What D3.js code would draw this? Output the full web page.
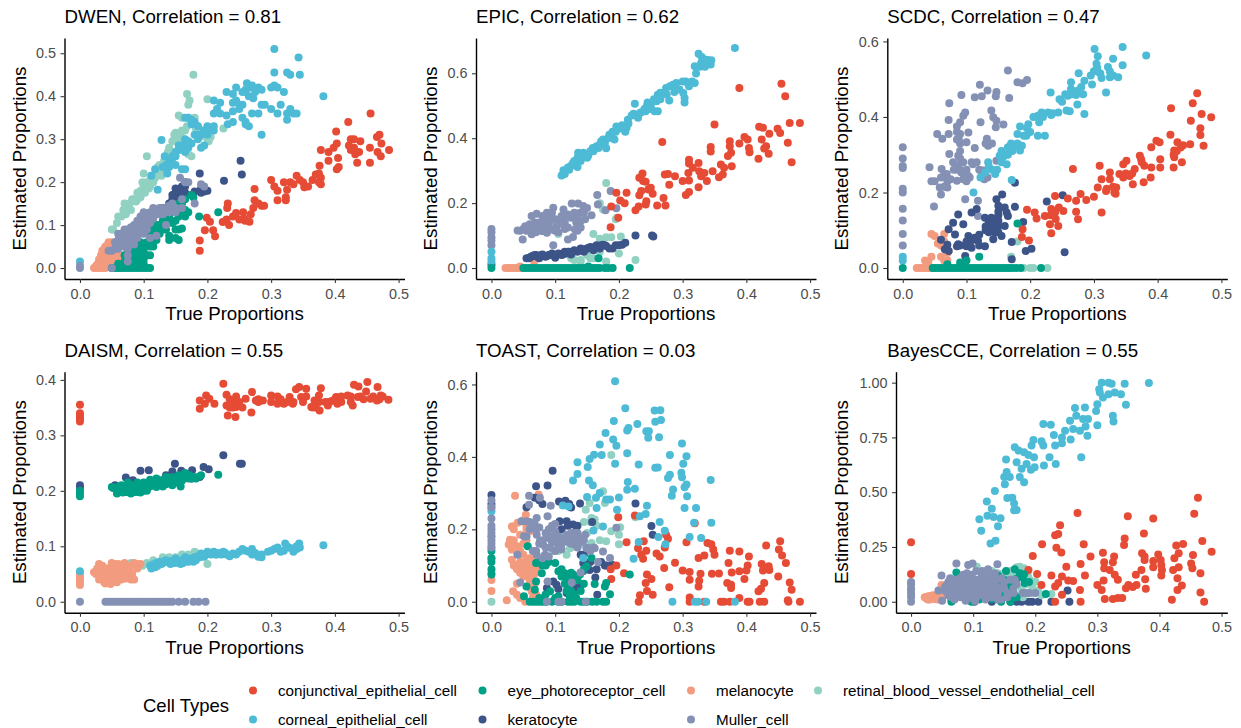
<!DOCTYPE html>
<html>
<head>
<meta charset="utf-8">
<script src="https://cdn.jsdelivr.net/npm/d3@7"></script>
<style>
  html, body { margin: 0; padding: 0; background: #fff; }
  svg { display: block; }
  text { font-family: "Liberation Sans", Arial, sans-serif; }
</style>
</head>
<body>
<div id="chart"></div>
<script>
// legend / colours
var cellTypes = ["conjunctival_epithelial_cell", "corneal_epithelial_cell", "eye_photoreceptor_cell", "keratocyte",
                 "melanocyte", "Muller_cell", "retinal_blood_vessel_endothelial_cell"];
var cellColors = ["#E64B35", "#4DBBD5", "#00A087", "#3C5488", "#F39B7F", "#8491B4", "#91D1C2"];

var methods = ["DWEN", "EPIC", "SCDC", "DAISM", "TOAST", "BayesCCE"];
var correlations = ["0.81", "0.62", "0.47", "0.55", "0.03", "0.55"];
var xTicks = [0, 0.1, 0.2, 0.3, 0.4, 0.5];
var yTicks = [
  [0, 0.1, 0.2, 0.3, 0.4, 0.5],
  [0, 0.2, 0.4, 0.6],
  [0, 0.2, 0.4, 0.6],
  [0, 0.1, 0.2, 0.3, 0.4],
  [0, 0.2, 0.4, 0.6],
  [0, 0.25, 0.5, 0.75, 1]
];
var yFormats = [".1f", ".1f", ".1f", ".1f", ".1f", ".2f"];
var xLimit = [0, 0.485];
var yLimits = [0.51, 0.675, 0.58, 0.395, 0.605, 1.0];

// points sitting on the zero line, only x is listed
var at0 = function(xs) { return xs.map(function(x) { return [x, 0]; }); };

/* ---------------------- DWEN ---------------------- */
var dwen_conj = [[.188,.064],[.188,.04],[.199,.117],[.204,.108],[.196,.088],[.209,.088],[.212,.074],[.232,.15],[.231,.14],[.224,.107],[.230,.113],[.234,.100],[.240,.120],[.245,.128],[.250,.113],[.256,.130],[.258,.115],[.259,.110],[.266,.108],[.268,.125],[.272,.14],[.274,.158],[.274,.184],[.280,.15],[.285,.145],[.289,.145],[.300,.205],[.305,.19],[.310,.18],[.310,.158],[.323,.158],[.323,.165],[.325,.182],[.320,.20],[.330,.20],[.335,.195],[.340,.215],[.345,.205],[.350,.20],[.352,.188],[.358,.19],[.365,.205],[.370,.218],[.375,.20],[.378,.195],[.375,.22],[.376,.238],[.378,.275],[.378,.21],[.390,.25],[.390,.27],[.398,.28],[.403,.29],[.403,.23],[.406,.235],[.405,.256],[.402,.318],[.422,.285],[.421,.34],[.425,.30],[.430,.28],[.432,.265],[.435,.245],[.440,.295],[.438,.27],[.455,.28],[.455,.245],[.456,.36],[.466,.305],[.470,.31],[.467,.27],[.472,.26],[.473,.29],[.485,.275],[.430,.30],[.425,.275]];
var dwen_corneal = [[0,.015],[.112,.215],[.118,.23],[.122,.182],[.128,.298],[.133,.26],[.135,.24],[.137,.22],[.140,.25],[.145,.245],[.150,.26],[.155,.275],[.16,.23],[.165,.23],[.155,.285],[.165,.30],[.170,.28],[.175,.29],[.18,.31],[.185,.30],[.19,.31],[.20,.33],[.2,.325],[.195,.285],[.19,.28],[.165,.35],[.170,.35],[.18,.34],[.175,.335],[.205,.325],[.21,.32],[.215,.37],[.21,.39],[.22,.385],[.22,.36],[.21,.36],[.232,.335],[.23,.355],[.24,.365],[.23,.41],[.24,.405],[.245,.42],[.245,.39],[.25,.38],[.25,.37],[.255,.35],[.26,.34],[.265,.33],[.255,.38],[.26,.41],[.26,.415],[.262,.43],[.268,.42],[.272,.395],[.275,.41],[.28,.42],[.285,.415],[.285,.31],[.28,.36],[.27,.36],[.285,.38],[.29,.38],[.30,.37],[.30,.42],[.305,.425],[.31,.42],[.31,.36],[.315,.38],[.32,.41],[.325,.36],[.33,.37],[.335,.36],[.34,.36],[.325,.345],[.305,.455],[.305,.51],[.325,.455],[.33,.45],[.345,.45],[.343,.49],[.382,.40],[.145,.26],[.15,.27],[.16,.285],[.165,.27],[.17,.295],[.185,.31],[.195,.32],[.15,.24],[.14,.235],[.13,.235],[.175,.345],[.185,.33],[.2,.31],[.21,.33],[.24,.385],[.265,.4],[.27,.425],[.255,.41],[.24,.34],[.26,.335]];
var dwen_eye = at0([.05,.055,.06,.065,.07,.075,.08,.085,.09,.095,.1,.105,.11]).concat([[.07,.03],[.075,.04],[.08,.02],[.085,.05],[.09,.045],[.08,.035],[.10,.04],[.105,.06],[.11,.03],[.115,.05],[.115,.09],[.12,.085],[.125,.08],[.13,.11],[.14,.12],[.135,.09],[.14,.075],[.15,.09],[.16,.092],[.155,.065],[.15,.07],[.165,.12],[.16,.13],[.17,.13],[.178,.165],[.187,.12],[.217,.13],[.155,.15],[.165,.16],[.175,.17],[.13,.13],[.12,.10],[.11,.075],[.09,.08],[.095,.06],[.085,.07],[.10,.02],[.07,.015],[.06,.01],[.075,.01],[.08,.01],[.085,.01],[.09,.02],[.095,.03],[.1,.05],[.105,.03],[.11,.05],[.115,.06],[.12,.065],[.125,.1],[.13,.09],[.135,.105],[.145,.105],[.15,.11],[.155,.12],[.165,.135],[.16,.15],[.09,.01],[.1,.01],[.085,.03],[.14,.065],[.155,.09],[.065,.005],[.07,.005]]);
var dwen_kerato = [[.12,.13],[.13,.14],[.14,.15],[.145,.16],[.15,.175],[.155,.18],[.16,.185],[.165,.175],[.15,.185],[.16,.19],[.165,.2],[.18,.178],[.19,.175],[.195,.178],[.2,.18],[.188,.22],[.226,.203],[.252,.25],[.254,.218],[.19,.185],[.105,.12],[.11,.10],[.155,.17],[.165,.19],[.145,.17],[.15,.165],[.16,.17],[.175,.17]];
var dwen_mela = [[.022,0],[.027,0],[.03,.005],[.03,.02],[.035,0],[.035,.03],[.035,.04],[.04,0],[.04,.015],[.04,.05],[.045,.06],[.045,.025],[.05,.02],[.05,.01],[.05,.035],[.05,.06],[.055,.045],[.055,0],[.06,.015],[.06,.03],[.065,.03],[.07,.05],[.045,.01],[.04,.035],[.055,.03],[.06,.05],[.045,.045],[.025,.005],[.028,.01],[.032,.012],[.033,.03],[.037,.02],[.042,.008],[.042,.03],[.047,.04],[.048,.05],[.052,.042],[.052,.03],[.058,.04],[.05,0],[.06,0],[.065,.015],[.03,0],[.038,.045],[.044,.055]];
var dwen_muller = [[0,0],[0,.005],[.05,.04],[.045,.04],[.055,.06],[.06,.05],[.065,.065],[.06,.08],[.06,.045],[.07,.075],[.075,.09],[.08,.085],[.085,.10],[.09,.095],[.095,.12],[.1,.11],[.1,.13],[.105,.125],[.11,.13],[.115,.125],[.12,.135],[.125,.14],[.13,.14],[.135,.14],[.14,.145],[.15,.14],[.145,.135],[.15,.13],[.105,.09],[.09,.085],[.085,.08],[.08,.065],[.075,.06],[.07,.05],[.075,.015],[.05,0],[.075,.03],[.11,.07],[.12,.075],[.135,.1],[.16,.16],[.165,.2],[.157,.21],[.17,.2],[.19,.195],[.195,.19],[.18,.15],[.16,.14],[.115,.14],[.095,.105],[.11,.105],[.07,.09],[.055,.045],[.065,.055],[.07,.065],[.08,.075],[.085,.09],[.09,.11],[.095,.09],[.1,.1],[.105,.11],[.11,.115],[.115,.115],[.12,.125],[.125,.125],[.13,.125],[.135,.13],[.14,.13],[.145,.15],[.1,.08],[.09,.07],[.08,.095],[.075,.075],[.065,.08],[.06,.065],[.075,.045],[.085,.055]];
var dwen_retinal = [[.05,.09],[.06,.12],[.065,.12],[.07,.15],[.075,.14],[.08,.135],[.085,.16],[.09,.175],[.088,.155],[.095,.165],[.1,.19],[.105,.20],[.11,.19],[.1,.22],[.105,.26],[.11,.205],[.115,.2],[.12,.22],[.125,.24],[.13,.23],[.135,.255],[.14,.28],[.145,.295],[.15,.315],[.155,.275],[.16,.32],[.165,.32],[.155,.355],[.17,.35],[.18,.35],[.185,.33],[.19,.32],[.195,.31],[.2,.30],[.202,.295],[.178,.45],[.168,.405],[.17,.38],[.172,.39],[.2,.393],[.225,.325],[.17,.265],[.175,.26],[.16,.29],[.15,.27],[.14,.25],[.052,.09],[.058,.105],[.068,.135],[.072,.125],[.078,.15],[.082,.16],[.09,.16],[.095,.18],[.098,.2],[.102,.175],[.108,.185],[.112,.215],[.118,.21],[.122,.235],[.128,.215],[.132,.25],[.138,.27],[.142,.26],[.148,.31],[.152,.3],[.158,.31],[.162,.3],[.168,.33],[.175,.34],[.182,.325],[.188,.305],[.198,.315],[.205,.305],[.16,.35]];

/* ---------------------- EPIC ---------------------- */
var epic_conj = [[.187,.126],[.188,.19],[.196,.232],[.212,.232],[.202,.208],[.209,.2],[.199,.155],[.226,.178],[.231,.19],[.243,.206],[.242,.196],[.26,.193],[.273,.193],[.27,.216],[.232,.224],[.235,.237],[.238,.268],[.232,.278],[.237,.291],[.242,.266],[.246,.242],[.25,.247],[.253,.229],[.268,.388],[.272,.288],[.277,.29],[.288,.283],[.279,.257],[.3,.268],[.31,.27],[.305,.225],[.31,.234],[.325,.249],[.309,.293],[.31,.334],[.31,.322],[.325,.324],[.316,.309],[.326,.298],[.334,.293],[.329,.283],[.338,.268],[.347,.298],[.35,.442],[.344,.373],[.344,.359],[.357,.28],[.363,.288],[.36,.319],[.365,.309],[.377,.314],[.371,.345],[.376,.355],[.374,.391],[.374,.375],[.389,.384],[.389,.555],[.397,.404],[.402,.396],[.404,.37],[.405,.357],[.419,.337],[.42,.435],[.426,.432],[.424,.396],[.431,.375],[.428,.368],[.435,.352],[.436,.414],[.449,.429],[.453,.416],[.455,.568],[.461,.529],[.465,.386],[.468,.447],[.471,.326],[.484,.447]];
var epic_corneal = [[0,.02],[0,.03],[0,.05],[.11,.285],[.113,.301],[.122,.303],[.128,.324],[.135,.311],[.136,.355],[.144,.355],[.152,.347],[.159,.37],[.165,.375],[.17,.38],[.175,.396],[.18,.369],[.185,.411],[.193,.396],[.196,.436],[.212,.432],[.214,.457],[.225,.506],[.223,.475],[.23,.463],[.233,.478],[.242,.483],[.244,.5],[.256,.483],[.261,.483],[.259,.514],[.261,.534],[.274,.555],[.279,.516],[.285,.565],[.287,.542],[.3,.575],[.303,.524],[.301,.539],[.308,.57],[.319,.57],[.319,.622],[.321,.599],[.329,.632],[.325,.66],[.337,.642],[.345,.64],[.344,.627],[.382,.678],[.14,.33],[.15,.34],[.16,.36],[.175,.385],[.19,.42],[.2,.43],[.205,.44],[.22,.47],[.25,.5],[.265,.54],[.29,.55],[.115,.29],[.12,.31],[.125,.315],[.13,.33],[.135,.34],[.14,.35],[.145,.345],[.155,.36],[.163,.37],[.168,.37],[.172,.39],[.178,.385],[.183,.4],[.188,.41],[.195,.42],[.205,.43],[.21,.42],[.215,.445],[.228,.47],[.235,.48],[.24,.49],[.245,.51],[.25,.49],[.255,.52],[.265,.52],[.27,.54],[.275,.535],[.28,.56],[.29,.57],[.295,.55],[.305,.575],[.31,.56],[.315,.575],[.303,.51],[.33,.65],[.34,.64],[.327,.62],[.335,.62]];
var epic_eye = at0([0,.05,.055,.06,.065,.07,.075,.08,.085,.09,.095,.1,.105,.11,.115,.12,.125,.13,.135,.14,.145,.15,.155,.16,.165,.17,.178,.183,.19,.217]).concat([[.168,.03],[.152,.005]]);
var epic_kerato = [[0,.01],[.055,.03],[.06,.032],[.065,.038],[.07,.04],[.075,.03],[.08,.042],[.085,.035],[.09,.04],[.095,.045],[.1,.032],[.105,.045],[.11,.04],[.115,.05],[.12,.05],[.125,.042],[.13,.055],[.135,.05],[.14,.06],[.145,.05],[.15,.06],[.155,.065],[.16,.055],[.165,.07],[.17,.06],[.175,.072],[.18,.068],[.19,.06],[.195,.07],[.205,.072],[.21,.078],[.226,.1],[.252,.1],[.254,.097],[.058,.03],[.062,.035],[.068,.04],[.072,.035],[.078,.04],[.082,.038],[.088,.038],[.092,.04],[.098,.04],[.102,.04],[.108,.043],[.112,.042],[.118,.045],[.122,.05],[.128,.05],[.132,.052],[.138,.055],[.142,.058],[.148,.058],[.152,.062],[.158,.06],[.162,.065],[.168,.065],[.172,.07],[.178,.07],[.185,.06],[.2,.07]];
var epic_mela = at0([.022,.027,.03,.035,.04,.045,.05]).concat([[.045,.005],[.067,.02]]);
var epic_muller = [[0,.07],[0,.085],[0,.095],[0,.11],[0,.12],[.041,.116],[.049,.088],[.053,.129],[.063,.16],[.071,.167],[.063,.104],[.074,.124],[.08,.14],[.087,.17],[.097,.186],[.084,.155],[.092,.145],[.087,.109],[.097,.07],[.102,.129],[.113,.18],[.115,.16],[.105,.11],[.12,.088],[.128,.096],[.115,.14],[.126,.199],[.136,.199],[.139,.17],[.131,.119],[.144,.191],[.147,.15],[.157,.163],[.133,.14],[.166,.225],[.167,.196],[.187,.237],[.179,.178],[.196,.184],[.058,.12],[.079,.114],[.094,.119],[.107,.15],[.068,.14],[.14,.145],[.045,.115],[.05,.12],[.055,.115],[.06,.135],[.065,.12],[.07,.11],[.075,.14],[.08,.16],[.085,.13],[.09,.16],[.09,.13],[.095,.17],[.1,.15],[.1,.115],[.105,.135],[.11,.16],[.115,.12],[.12,.125],[.125,.155],[.13,.17],[.135,.16],[.14,.125],[.145,.17],[.15,.185],[.135,.115],[.12,.165],[.08,.115],[.07,.13]];
var epic_retinal = [[.13,.025],[.125,.03],[.155,.03],[.14,.025],[.15,.04],[.16,.03],[.18,.02],[.2,.045],[.226,.025],[.16,.105],[.17,.09],[.18,.095],[.188,.095],[.203,.097],[.197,.155],[.18,.262],[.17,.2],[.175,.18],[.17,.05],[.14,.02],[.19,0],[.195,.15],[.105,.105]];

/* ---------------------- SCDC ---------------------- */
var scdc_conj = [[.188,.103],[.187,.082],[.198,.073],[.195,.154],[.207,.147],[.21,.131],[.223,.138],[.233,.092],[.231,.116],[.244,.111],[.239,.147],[.233,.156],[.239,.191],[.252,.151],[.259,.184],[.267,.262],[.272,.149],[.275,.129],[.272,.178],[.279,.196],[.288,.18],[.3,.189],[.312,.147],[.306,.213],[.312,.235],[.309,.271],[.319,.204],[.325,.253],[.325,.235],[.332,.2],[.335,.213],[.334,.197],[.34,.249],[.346,.275],[.351,.284],[.346,.24],[.356,.244],[.361,.222],[.364,.262],[.372,.297],[.374,.288],[.378,.227],[.379,.271],[.39,.266],[.389,.24],[.39,.32],[.398,.337],[.403,.333],[.404,.288],[.404,.266],[.421,.423],[.42,.353],[.425,.266],[.426,.293],[.426,.311],[.431,.333],[.436,.319],[.438,.28],[.451,.328],[.452,.39],[.455,.436],[.462,.463],[.467,.37],[.467,.352],[.469,.408],[.472,.324],[.484,.399],[.24,.13],[.232,.14],[.245,.16],[.35,.25],[.36,.25],[.375,.28],[.43,.31],[.425,.3],[.44,.325],[.33,.215],[.32,.21]];
var scdc_corneal = [[0,.02],[0,.03],[.111,.2],[.122,.24],[.171,.233],[.134,.28],[.145,.249],[.129,.253],[.152,.297],[.163,.275],[.16,.3],[.176,.324],[.184,.311],[.187,.324],[.18,.355],[.184,.375],[.197,.381],[.194,.35],[.2,.36],[.212,.35],[.223,.35],[.212,.403],[.218,.412],[.214,.386],[.232,.465],[.228,.412],[.233,.405],[.244,.412],[.246,.447],[.257,.417],[.262,.415],[.259,.456],[.264,.492],[.264,.474],[.272,.458],[.274,.433],[.276,.516],[.28,.479],[.285,.408],[.285,.496],[.283,.46],[.297,.486],[.301,.58],[.306,.561],[.304,.541],[.3,.521],[.306,.52],[.312,.503],[.319,.465],[.322,.532],[.325,.505],[.33,.554],[.338,.505],[.345,.585],[.345,.537],[.382,.563],[.155,.31],[.165,.32],[.17,.33],[.18,.33],[.14,.26],[.135,.27],[.148,.26],[.155,.28],[.158,.295],[.165,.3],[.172,.31],[.178,.325],[.19,.35],[.195,.37],[.205,.4],[.22,.4],[.235,.41],[.25,.44],[.255,.46],[.265,.46],[.275,.47],[.295,.51],[.305,.53],[.31,.515],[.325,.52],[.33,.51]];
var scdc_eye = at0([0,.047,.052,.057,.062,.067,.072,.077,.082,.087,.092,.097,.102,.107,.112,.117,.122,.127,.132,.137,.142,.147,.152,.157,.162,.167,.172,.178,.185,.217]).concat([[.12,.03],[.18,.118],[.09,.015],[.1,.02],[.07,.01],[.095,.012]]);
var scdc_kerato = [[.226,.176],[.251,.193],[.254,.042],[.176,.226],[.156,.195],[.147,.182],[.15,.165],[.176,.162],[.16,.16],[.163,.147],[.139,.133],[.189,.122],[.202,.051],[.193,.045],[.171,.069],[.171,.023],[.087,.142],[.079,.12],[.072,.103],[.06,.075],[.066,.05],[.072,.045],[.082,.089],[.087,.063],[.095,.116],[.108,.147],[.116,.156],[.103,.085],[.113,.08],[.108,.054],[.129,.058],[.118,.072],[.098,.032],[.129,.133],[.134,.111],[.145,.12],[.15,.111],[.145,.094],[.155,.085],[.16,.111],[.165,.138],[.142,.076],[.09,.06],[.1,.058],[.12,.088],[.14,.13],[.138,.105],[.147,.105],[.15,.14],[.07,.062],[.13,.11],[.135,.12],[.14,.1],[.145,.11],[.14,.115],[.15,.095],[.135,.095],[.11,.075],[.105,.065],[.1,.07],[.12,.06],[.085,.058],[.13,.1],[.15,.125],[.15,.15]];
var scdc_mela = at0([.022,.027,.03,.035,.04,.045,.05]).concat([[.045,.09],[.05,.085],[.055,.065],[.06,.06],[.065,.09],[.035,.02],[.04,.015],[.045,.03],[.065,.07],[.07,.04],[.065,.02],[.06,.03],[.07,.02],[.072,.045]]);
var scdc_muller = [[0,.32],[0,.29],[0,.27],[0,.265],[0,.21],[0,.2],[0,.157],[0,.126],[0,.09],[0,.06],[.042,.267],[.045,.23],[.05,.23],[.049,.163],[.06,.195],[.058,.213],[.061,.262],[.064,.244],[.069,.249],[.07,.213],[.054,.355],[.062,.342],[.072,.355],[.072,.392],[.073,.436],[.073,.302],[.079,.28],[.085,.231],[.087,.297],[.087,.271],[.09,.355],[.09,.386],[.092,.458],[.095,.403],[.098,.412],[.098,.182],[.092,.253],[.103,.359],[.1,.333],[.103,.244],[.108,.28],[.113,.452],[.113,.318],[.116,.28],[.118,.178],[.118,.138],[.121,.485],[.124,.455],[.122,.386],[.126,.258],[.133,.47],[.132,.342],[.134,.324],[.133,.24],[.139,.417],[.142,.399],[.147,.466],[.146,.455],[.147,.39],[.146,.373],[.158,.38],[.167,.45],[.165,.523],[.18,.492],[.188,.489],[.195,.498],[.147,.284],[.085,.36],[.085,.34],[.09,.33],[.09,.29],[.085,.26],[.095,.25],[.1,.26],[.105,.24],[.088,.34],[.09,.31],[.095,.28],[.085,.375],[.08,.26],[.075,.235],[.06,.24],[.07,.23],[.065,.215],[.095,.235],[.1,.23],[.11,.275],[.12,.26],[.125,.25],[.128,.235],[.13,.33],[.14,.33],[.09,.26]];
var scdc_retinal = [[.18,.07],[.17,.03],[.2,0],[.205,0],[.227,0],[.19,0]];

/* ---------------------- DAISM ---------------------- */
var daism_conj = [[0,.355],[0,.34],[0,.335],[0,.33],[0,.325],[.188,.363],[.188,.348],[.198,.372],[.203,.366],[.211,.357],[.196,.357],[.225,.393],[.23,.373],[.232,.336],[.244,.333],[.23,.354],[.24,.363],[.245,.351],[.26,.366],[.269,.341],[.27,.378],[.276,.363],[.287,.363],[.3,.372],[.31,.357],[.31,.37],[.329,.369],[.32,.357],[.334,.357],[.339,.383],[.344,.387],[.355,.384],[.347,.369],[.363,.351],[.368,.363],[.378,.385],[.376,.345],[.375,.372],[.389,.354],[.402,.369],[.404,.357],[.42,.372],[.428,.354],[.436,.369],[.43,.391],[.437,.388],[.451,.396],[.449,.379],[.456,.366],[.467,.387],[.466,.363],[.472,.372],[.484,.364],[.375,.36],[.37,.35],[.35,.36],[.3,.36],[.28,.365],[.25,.36],[.245,.37],[.235,.35],[.425,.37],[.41,.36],[.395,.362],[.24,.35],[.235,.365],[.25,.355],[.255,.35],[.28,.36],[.315,.365],[.325,.36],[.335,.36],[.355,.37],[.365,.35],[.385,.36],[.39,.36],[.4,.365],[.41,.37],[.425,.36],[.44,.37],[.445,.365],[.46,.37],[.47,.365],[.475,.37]];
var daism_corneal = [[0,.055],[.11,.065],[.115,.067],[.12,.07],[.125,.072],[.13,.07],[.135,.075],[.14,.071],[.145,.074],[.15,.078],[.155,.07],[.16,.075],[.165,.08],[.17,.072],[.175,.078],[.18,.08],[.185,.082],[.19,.087],[.195,.081],[.21,.09],[.215,.085],[.225,.09],[.23,.085],[.24,.087],[.25,.09],[.26,.092],[.27,.085],[.275,.088],[.28,.081],[.285,.085],[.3,.092],[.305,.095],[.31,.098],[.32,.092],[.322,.105],[.33,.097],[.34,.095],[.344,.105],[.345,.098],[.382,.102],[.112,.06],[.118,.062],[.122,.065],[.128,.068],[.132,.072],[.138,.072],[.142,.068],[.148,.07],[.152,.072],[.158,.068],[.162,.07],[.168,.078],[.172,.075],[.178,.072],[.182,.075],[.188,.08],[.192,.082],[.2,.09],[.205,.085],[.212,.085],[.218,.088],[.222,.085],[.228,.088],[.235,.082],[.245,.085],[.255,.095],[.265,.09],[.27,.095],[.285,.08],[.295,.09],[.315,.09],[.325,.1],[.335,.09],[.34,.1]];
var daism_eye = [[0,.195],[0,.2],[0,.19],[.05,.207],[.055,.205],[.058,.195],[.06,.2],[.065,.21],[.07,.205],[.072,.198],[.075,.215],[.08,.2],[.085,.205],[.09,.198],[.09,.215],[.095,.205],[.1,.2],[.1,.215],[.105,.21],[.11,.208],[.11,.22],[.115,.215],[.12,.207],[.12,.222],[.125,.212],[.13,.22],[.13,.208],[.135,.225],[.135,.212],[.14,.218],[.145,.21],[.145,.225],[.15,.222],[.155,.228],[.158,.208],[.16,.218],[.165,.232],[.17,.222],[.175,.222],[.18,.223],[.185,.225],[.19,.228],[.217,.229],[.052,.205],[.06,.207],[.063,.2],[.068,.203],[.072,.208],[.078,.205],[.082,.21],[.085,.198],[.088,.21],[.092,.205],[.097,.212],[.102,.207],[.105,.2],[.108,.215],[.112,.212],[.118,.215],[.122,.21],[.128,.215],[.132,.215],[.138,.22],[.142,.218],[.148,.218],[.152,.215],[.157,.225],[.162,.225],[.168,.228],[.172,.228],[.178,.225],[.182,.222],[.067,.197],[.075,.198],[.08,.195],[.095,.197]];
var daism_kerato = [[0,.21],[0,.205],[.095,.236],[.108,.237],[.072,.224],[.083,.219],[.149,.249],[.159,.236],[.176,.237],[.194,.243],[.202,.239],[.225,.264],[.251,.249],[.254,.249],[.175,.222],[.188,.225],[.055,.21],[.135,.228],[.145,.235]];
var daism_mela = [[0,.03],[0,.035],[0,.04],[0,.045],[0,.05],[.022,.053],[.027,.06],[.03,.04],[.03,.068],[.035,.055],[.035,.065],[.04,.033],[.04,.05],[.045,.04],[.045,.06],[.05,.035],[.05,.05],[.055,.042],[.055,.068],[.06,.055],[.06,.04],[.065,.05],[.065,.065],[.07,.042],[.07,.06],[.07,.07],[.075,.05],[.08,.04],[.085,.04],[.08,.065],[.085,.07],[.09,.068],[.045,.05],[.055,.055],[.025,.05],[.028,.052],[.033,.048],[.038,.045],[.042,.06],[.047,.055],[.05,.06],[.052,.045],[.058,.05],[.062,.045],[.067,.055],[.072,.05],[.075,.06],[.078,.055],[.082,.05],[.033,.06],[.038,.035],[.048,.032],[.058,.035],[.065,.04],[.075,.042],[.06,.068],[.05,.07],[.095,.068],[.09,.06]];
var daism_muller = at0([0,.04,.045,.05,.055,.06,.065,.07,.075,.08,.085,.09,.095,.1,.105,.11,.115,.12,.125,.13,.135,.14,.145,.155,.165,.178,.186,.197]);
var daism_retinal = [[.08,.07],[.085,.068],[.098,.065],[.105,.07],[.12,.07],[.13,.08],[.14,.08],[.15,.08],[.17,.085],[.18,.09],[.2,.068],[.16,.085],[.115,.075]];

/* ---------------------- TOAST ---------------------- */
var toast_conj = [[.199,.233],[.225,.238],[.319,.217],[.274,.185],[.277,.174],[.212,.164],[.239,.167],[.23,.148],[.243,.141],[.272,.15],[.259,.133],[.264,.125],[.306,.164],[.235,.13],[.238,.119],[.196,.1],[.187,.09],[.188,.063],[.208,.079],[.271,.093],[.288,.108],[.3,.086],[.311,.082],[.311,.061],[.325,.121],[.334,.128],[.339,.162],[.345,.159],[.348,.144],[.35,.13],[.328,.077],[.326,.058],[.325,.042],[.346,.077],[.357,.078],[.244,.075],[.251,.063],[.242,.052],[.244,.03],[.253,.019],[.233,.018],[.231,0],[.279,.04],[.311,.012],[.311,0],[.334,0],[.36,0],[.365,0],[.374,0],[.374,.141],[.372,.107],[.377,.081],[.37,.052],[.376,.047],[.376,.038],[.389,.139],[.389,.084],[.397,.063],[.389,.01],[.404,.125],[.402,.1],[.4,.086],[.402,0],[.405,0],[.431,.155],[.424,.104],[.426,.086],[.435,.098],[.436,.088],[.428,.052],[.423,.036],[.419,.029],[.421,0],[.428,0],[.453,.167],[.451,.144],[.456,.128],[.462,.107],[.45,.07],[.468,.053],[.471,.033],[.466,0],[.484,0],[.465,.004]];
var toast_corneal = [[0,.26],[0,.25],[.194,.609],[.21,.534],[.192,.499],[.213,.473],[.215,.48],[.229,.491],[.243,.471],[.247,.471],[.246,.453],[.256,.528],[.265,.529],[.257,.497],[.266,.502],[.263,.454],[.179,.466],[.191,.448],[.196,.431],[.17,.434],[.161,.406],[.154,.394],[.173,.405],[.135,.385],[.151,.372],[.194,.381],[.213,.41],[.231,.379],[.257,.37],[.261,.371],[.28,.405],[.299,.437],[.306,.402],[.301,.381],[.298,.356],[.299,.344],[.277,.342],[.28,.351],[.306,.324],[.303,.316],[.344,.336],[.285,.31],[.283,.293],[.307,.291],[.135,.353],[.128,.335],[.153,.335],[.159,.322],[.214,.331],[.213,.309],[.225,.312],[.15,.289],[.164,.287],[.17,.3],[.18,.282],[.186,.282],[.2,.288],[.197,.254],[.112,.266],[.121,.263],[.165,.259],[.244,.265],[.242,.242],[.233,.236],[.303,.259],[.321,.259],[.264,.22],[.318,.218],[.345,.218],[.272,.196],[.311,.179],[.329,.176],[.231,.165],[.273,.159],[.262,.179],[.223,.119],[.144,.121],[.16,.197],[.175,.208],[.284,0],[.319,0],[.324,0],[.337,0],[.382,0]];
var toast_eye = at0([.06,.065,.07,.075,.08,.085,.095,.105,.11,.12,.125,.13,.14,.145,.15,.158,.165,.175,.18]).concat([[0,.14],[0,.12],[0,.11],[0,.09],[0,.075],[.057,.153],[.055,.042],[.07,.107],[.079,.079],[.087,.109],[.1,.107],[.07,.056],[.105,.084],[.115,.079],[.118,.065],[.128,.075],[.139,.075],[.149,.098],[.157,.121],[.162,.049],[.178,.042],[.18,.052],[.186,.021],[.217,.075],[.068,.033],[.082,.01],[.092,.029],[.118,.03],[.123,.015],[.133,.01],[.051,.015],[.13,.06],[.12,.045],[.11,.09],[.075,.01],[.085,.02],[.1,.01],[.115,.05],[.125,.03],[.135,.06],[.14,.03],[.145,.05],[.08,.1],[.085,.1],[.09,.11],[.075,.11],[.11,.07],[.14,.08],[.145,.09],[.105,.015],[.13,.02],[.12,.06],[.125,.08]]);
var toast_kerato = [[0,.295],[0,.27],[.096,.362],[.07,.319],[.088,.321],[.068,.287],[.055,.261],[.106,.277],[.116,.279],[.139,.271],[.113,.268],[.226,.271],[.251,.209],[.253,.185],[.107,.222],[.118,.222],[.128,.213],[.158,.22],[.133,.195],[.144,.107],[.144,.085],[.154,.088],[.178,.1],[.189,.102],[.163,.067],[.166,.019],[.097,.056],[.102,.047],[.087,.038],[.118,.024],[.133,.038],[.141,.047],[.172,.11],[.12,.21],[.13,.16],[.14,.13],[.145,.13],[.155,.11],[.165,.09],[.18,.1],[.105,.035],[.11,.2],[.125,.26],[.122,.27],[.075,.28],[.08,.27],[.135,.21]];
var toast_mela = [[.037,.293],[.074,.296],[.054,.24],[.05,.225],[.034,.208],[.032,.208],[.041,.218],[.029,.171],[.027,.158],[.032,.144],[.04,.153],[.045,.185],[.032,.116],[.042,.102],[.05,.088],[.058,.084],[.066,.075],[.055,.112],[.066,.102],[.068,.139],[.034,.029],[.04,.019],[.024,.004],[.045,.01],[.053,0],[.063,.029],[0,.18],[0,.06],[0,.03],[0,.12],[.06,.195],[.055,.17],[.06,.12],[.05,.13],[.045,.11],[.055,.095],[.065,.09],[.06,.06],[.068,.05],[.06,.04],[.03,.16],[.035,.17],[.04,.135],[.045,.14],[.05,.16],[.035,.1],[.04,.09],[.045,.08],[.05,.1],[.06,.1],[.065,.115],[.07,.12],[.07,.09],[.05,.07],[.06,.075],[.06,.21],[.055,.2],[.07,.08],[.07,.02],[.065,.01],[.04,.05],[.055,.21],[.035,.2],[0,.15],[0,.08]];
var toast_muller = [[0,.28],[0,.26],[0,.23],[0,.21],[0,.2],[0,.19],[0,.18],[0,.17],[0,.16],[0,.15],[.059,.293],[.076,.287],[.059,.268],[.093,.265],[.088,.236],[.047,.222],[.055,.222],[.071,.231],[.068,.213],[.051,.181],[.071,.185],[.041,.13],[.065,.14],[.076,.167],[.1,.215],[.1,.194],[.087,.185],[.081,.158],[.092,.149],[.071,.13],[.084,.13],[.103,.162],[.118,.185],[.131,.19],[.123,.176],[.139,.176],[.147,.185],[.149,.148],[.162,.148],[.175,.139],[.186,.121],[.167,.11],[.196,.204],[.045,.053],[.126,.053],[.14,.081],[.088,.056],[.087,0],[.11,0],[.105,0],[.148,0],[.095,.18],[.11,.16],[.125,.16],[.135,.15],[.06,.2],[.065,.21],[.07,.2],[.075,.205],[.08,.17],[.085,.15],[.09,.2],[.095,.165],[.1,.17],[.105,.18],[.1,.14],[.09,.125],[.08,.12],[.11,.145],[.115,.175],[.12,.165],[.125,.19],[.13,.17],[.135,.19],[.14,.165],[.145,.17],[.15,.15],[.155,.14],[.16,.15],[.105,.15],[.085,.19],[.09,.175],[.095,.21],[.07,.14],[.06,.22],[.055,.18],[.075,.16]];
var toast_retinal = [[0,0],[.188,.405],[.175,.305],[.154,.273],[.148,.254],[.178,.273],[.157,.231],[.162,.227],[.226,.233],[.188,.195],[.202,.206],[.2,.185],[.2,.159],[.157,.162],[.18,.167],[.113,.181],[.118,.13],[.097,.14],[.123,.148],[.17,.3],[.11,.17],[.125,.15],[.13,.17],[.14,.16],[.15,.19],[.165,.21],[.17,.17],[.16,.15],[.145,.22],[.155,.22],[.105,.14]];

/* ---------------------- BayesCCE ---------------------- */
var bayes_conj = [[0,.272],[0,.127],[.196,.209],[.189,.145],[.203,.127],[.21,.077],[.211,.262],[.226,.12],[.232,.07],[.237,.085],[.24,.349],[.232,.304],[.237,.309],[.234,.247],[.242,.225],[.243,.115],[.25,.16],[.253,.097],[.243,.032],[.232,0],[.261,.095],[.268,.405],[.272,.054],[.273,0],[.273,.172],[.28,.12],[.278,.262],[.289,.206],[.3,.077],[.307,.054],[.31,.097],[.309,.224],[.311,.18],[.311,.153],[.312,.012],[.32,.145],[.327,.206],[.325,.18],[.328,.123],[.333,.1],[.325,.012],[.333,.017],[.34,.017],[.344,.289],[.343,.259],[.349,.39],[.346,.062],[.35,.077],[.357,.067],[.363,.077],[.362,.123],[.371,.145],[.375,.312],[.372,.221],[.376,.206],[.376,.191],[.377,.103],[.378,.059],[.39,.38],[.39,.186],[.39,.157],[.398,.216],[.402,.191],[.403,.168],[.404,.145],[.403,.12],[.42,.009],[.422,.145],[.424,.198],[.427,.257],[.431,.221],[.431,.157],[.429,.107],[.429,.054],[.436,.074],[.438,.263],[.451,.175],[.453,.153],[.454,.213],[.456,.402],[.462,.475],[.466,.13],[.466,.042],[.469,.277],[.472,0],[.484,.228]];
var bayes_corneal = [[.128,.266],[.136,.278],[.113,.324],[.11,.377],[.123,.392],[.122,.458],[.13,.425],[.135,.505],[.133,.387],[.144,.381],[.14,.345],[.151,.536],[.15,.569],[.153,.649],[.154,.592],[.155,.474],[.163,.475],[.166,.448],[.166,.418],[.17,.419],[.159,.569],[.17,.637],[.167,.705],[.173,.69],[.178,.607],[.175,.569],[.182,.545],[.182,.682],[.186,.629],[.189,.67],[.193,.602],[.199,.614],[.197,.738],[.194,.713],[.198,.66],[.21,.732],[.213,.713],[.214,.622],[.223,.66],[.233,.629],[.213,.811],[.225,.808],[.23,.761],[.232,.713],[.243,.723],[.243,.75],[.248,.781],[.257,.74],[.256,.826],[.261,.788],[.264,.884],[.266,.849],[.274,.66],[.272,.781],[.28,.887],[.277,.834],[.285,.834],[.284,.758],[.281,.8],[.298,.871],[.3,.806],[.3,.902],[.304,.955],[.307,1],[.303,.97],[.309,.932],[.318,1],[.323,.995],[.318,.947],[.328,.955],[.338,.947],[.325,.849],[.326,.823],[.344,.995],[.346,.899],[.383,.998]];
var bayes_eye = at0([.065,.097,.145,.16]).concat([[.073,.133],[.153,.14],[.167,.148],[.183,.085],[.182,.125],[.217,.035],[.124,.092],[.14,.09],[.16,.06],[.065,.01],[.15,.02],[.163,.02],[.13,.012],[.17,.105],[.12,.05],[.08,.03],[.09,.06],[.1,.09],[.11,.01],[.115,.02],[.13,.1],[.14,.12],[.15,.1],[.155,.08],[.16,.08],[.165,.1],[.175,.13],[.19,.09],[.18,.11],[.17,.02],[.145,.03],[.125,.11]]);
var bayes_kerato = at0([.102,.13,.16,.17,.178,.189,.195,.205,.226,.255]).concat([[.252,.051]]);
var bayes_mela = [[.022,.02],[.025,.015],[.028,.025],[.03,.01],[.032,.02],[.035,.03],[.038,.012],[.04,.018],[.043,.01],[.047,.02],[.05,.012],[.049,.077],[.055,.075],[.05,.045],[.042,.03],[.024,.02],[.027,.01],[.03,.025],[.033,.015],[.036,.02],[.04,.025],[.045,.025],[.05,.03],[.053,.06],[.06,.08]];
var bayes_muller = [[0,0],[0,.02],[0,.035],[0,.05],[0,.06],[0,.08],[0,.09],[.073,.175],[.092,.168],[.099,.175],[.139,.171],[.049,.12],[.044,.051],[.063,.107],[.124,.148],[.084,.123],[.098,.123],[.114,.12],[.133,.12],[.146,.107],[.167,.1],[.055,.05],[.06,.03],[.065,.07],[.07,.05],[.075,.085],[.08,.02],[.085,.06],[.09,.1],[.09,.04],[.095,.08],[.1,.015],[.1,.055],[.105,.1],[.11,.035],[.11,.075],[.115,.06],[.12,.01],[.125,.04],[.13,.08],[.135,.03],[.14,.065],[.145,.01],[.05,.005],[.058,.075],[.072,.1],[.08,.11],[.09,.13],[.105,.14],[.12,.09],[.135,.1],[.15,.06],[.155,.04],[.165,.06],[.18,.04],[.185,.04],[.19,.04],[.2,.04],[.07,.01],[.088,.005],[.103,.003],[.055,.07],[.06,.06],[.065,.05],[.07,.075],[.075,.06],[.08,.05],[.08,.08],[.085,.09],[.085,.03],[.09,.07],[.095,.05],[.095,.1],[.1,.07],[.1,.09],[.105,.05],[.105,.02],[.11,.06],[.11,.09],[.115,.03],[.115,.1],[.12,.07],[.125,.06],[.125,.12],[.13,.1],[.13,.05],[.135,.07],[.14,.1],[.14,.04],[.145,.06],[.15,.09],[.155,.02],[.16,.1],[.165,.04],[.17,.08],[.06,.09],[.07,.03],[.075,.1],[.065,.02],[.09,.02],[.1,.035],[.12,.03],[.13,.02],[.14,.01],[.135,.13],[.12,.13],[.115,.14]];
var bayes_retinal = [[.106,.16],[.17,.157],[.182,.153],[.2,.092],[.191,.1],[.226,.035],[.178,.06],[.194,.04],[.114,.11],[.108,.08],[.175,.115],[.188,.12],[.13,.14],[.15,.13],[.12,.13],[.14,.13],[.16,.14],[.185,.08],[.195,.07],[.18,.02],[.17,.03],[.205,.05],[.21,.03],[.175,.16],[.155,.12],[.165,.12],[.125,.08],[.18,.13]];

// [conj, corneal, eye, kerato, mela, muller, retinal] per panel, same order as cellTypes
var panelSeries = [
  [dwen_conj, dwen_corneal, dwen_eye, dwen_kerato, dwen_mela, dwen_muller, dwen_retinal],
  [epic_conj, epic_corneal, epic_eye, epic_kerato, epic_mela, epic_muller, epic_retinal],
  [scdc_conj, scdc_corneal, scdc_eye, scdc_kerato, scdc_mela, scdc_muller, scdc_retinal],
  [daism_conj, daism_corneal, daism_eye, daism_kerato, daism_mela, daism_muller, daism_retinal],
  [toast_conj, toast_corneal, toast_eye, toast_kerato, toast_mela, toast_muller, toast_retinal],
  [bayes_conj, bayes_corneal, bayes_eye, bayes_kerato, bayes_mela, bayes_muller, bayes_retinal]
];
// what gets painted over what, differs between panels
var drawOrders = [
  [6, 4, 3, 0, 1, 2, 5],
  [6, 4, 5, 3, 0, 1, 2],
  [6, 4, 5, 3, 0, 1, 2],
  [5, 6, 4, 1, 3, 2, 0],
  [4, 6, 3, 0, 1, 2, 5],
  [4, 3, 6, 0, 1, 2, 5]
];

/* layout */
var width = 1241, height = 728;
var rowBox = [[38, 279], [371.7, 612.7]];
var colBox = [[64.5, 404.5], [476, 816], [887.3, 1227.3]];
var yTitleX = [20, 431, 842];
var pointRadius = 4;
var titleSize = "18.7px", tickSize = "14.4px";

var svg = d3.select("#chart").append("svg").attr("width", width).attr("height", height);

methods.forEach(function(method, p) {
  var row = Math.floor(p / 3), col = p % 3;
  var top = rowBox[row][0], bottom = rowBox[row][1];
  var left = colBox[col][0], right = colBox[col][1];
  if (p === 5) left = 896; // wider tick labels ("1.00") squeeze this one

  var xPad = (xLimit[1] - xLimit[0]) * 0.05;
  var x = d3.scaleLinear().domain([xLimit[0] - xPad, xLimit[1] + xPad]).range([left, right]);
  var yPad = yLimits[p] * 0.05;
  var y = d3.scaleLinear().domain([-yPad, yLimits[p] + yPad]).range([bottom, top]);

  var g = svg.append("g").attr("class", "panel");

  drawOrders[p].forEach(function(t) {
    g.append("g").selectAll("circle")
      .data(panelSeries[p][t])
      .enter()
      .append("circle")
      .attr("cx", function(d) { return x(d[0]); })
      .attr("cy", function(d) { return y(d[1]); })
      .attr("r", pointRadius)
      .attr("fill", cellColors[t]);
  });

  var xAxis = g.append("g")
    .attr("transform", "translate(0," + bottom + ")")
    .call(d3.axisBottom(x).tickValues(xTicks).tickFormat(d3.format(".1f")).tickSize(4).tickSizeOuter(0).tickPadding(5.5));
  var yAxis = g.append("g")
    .attr("transform", "translate(" + left + ",0)")
    .call(d3.axisLeft(y).tickValues(yTicks[p]).tickFormat(d3.format(yFormats[p])).tickSize(4).tickSizeOuter(0).tickPadding(4.5));

  [xAxis, yAxis].forEach(function(a) {
    a.select(".domain").attr("stroke", "#000").attr("stroke-width", 1.4);
    a.selectAll(".tick line").attr("stroke", "#333").attr("stroke-width", 1.05);
    a.selectAll(".tick text").attr("fill", "#4D4D4D").style("font-size", tickSize);
  });

  g.append("text")
    .attr("x", colBox[col][0])
    .attr("y", top - 15)
    .style("font-size", titleSize)
    .attr("fill", "#000")
    .text(method + ", Correlation = " + correlations[p]);

  g.append("text")
    .attr("x", (left + right) / 2)
    .attr("y", bottom + 41)
    .attr("text-anchor", "middle")
    .style("font-size", titleSize)
    .attr("fill", "#000")
    .text("True Proportions");

  g.append("text")
    .attr("transform", "translate(" + (yTitleX[col] + 6) + "," + ((top + bottom) / 2) + ") rotate(-90)")
    .attr("text-anchor", "middle")
    .style("font-size", titleSize)
    .attr("fill", "#000")
    .text("Estimated Proportions");
});

/* legend, filled column by column */
var legendCols = [253, 482.5, 691, 818];
var legendRows = [690.5, 719.5];
var legendOrder = [0, 1, 2, 3, 4, 5, 6];

svg.append("text")
  .attr("x", 143).attr("y", 711.5)
  .style("font-size", "18.5px")
  .text("Cell Types");

var legend = svg.append("g").attr("class", "legend");
legendOrder.forEach(function(t) {
  var cx = legendCols[Math.floor(t / 2)], cy = legendRows[t % 2];
  legend.append("circle").attr("cx", cx).attr("cy", cy).attr("r", pointRadius).attr("fill", cellColors[t]);
  legend.append("text")
    .attr("x", cx + 25)
    .attr("y", cy + 5)
    .style("font-size", "15.2px")
    .text(cellTypes[t]);
});
</script>
</body>
</html>
